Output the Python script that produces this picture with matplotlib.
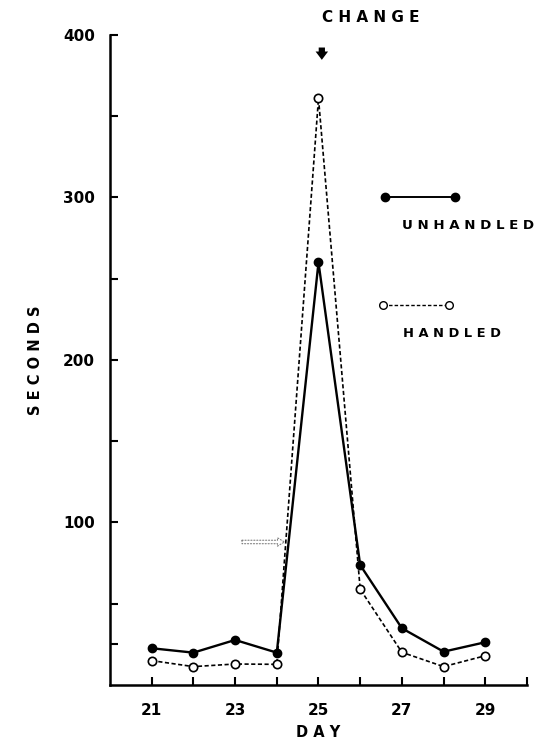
import matplotlib
matplotlib.use("Agg")
import matplotlib.pyplot as plt

days = [21, 22, 23, 24, 25, 26, 27, 28, 29]
unhandled = [22.6, 19.9, 27.7, 19.9, 260, 73.8, 34.9, 20.5, 26.3]
handled = [15, 11.3, 12.9, 12.7, 361, 58.9, 20.1, 11.3, 18]

xticks = list(range(21, 31))
xticklabels = ["21", "", "23", "", "25", "", "27", "", "29", ""]
yticks = [25, 50, 100, 150, 200, 250, 300, 350, 400]
yticklabels = ["", "", "100", "", "200", "", "300", "", "400"]

fig = plt.figure(figsize=(5.4, 7.43), dpi=100)
ax = fig.add_axes([0.2037, 0.0781, 0.7722, 0.8748])

ax.plot(days, unhandled, color="black", lw=1.7, marker="o", ms=6,
        mfc="black", mec="black", zorder=3)
ax.plot(days, handled, color="black", lw=1.2, ls=(0, (2.5, 1.5)), marker="o", ms=6,
        mfc="white", mec="black", mew=1.2, zorder=3)

ax.set_xlim(20, 30)
ax.set_ylim(0, 400)
ax.set_xticks(xticks)
ax.set_xticklabels(xticklabels, fontsize=11, fontweight="bold")
ax.set_yticks(yticks)
ax.set_yticklabels(yticklabels, fontsize=11, fontweight="bold")
ax.tick_params(axis="y", direction="in", length=6, width=1.5, pad=11)
ax.tick_params(axis="x", direction="in", length=6, width=1.5, pad=13)
for s in ["top", "right"]:
    ax.spines[s].set_visible(False)
for s in ["left", "bottom"]:
    ax.spines[s].set_linewidth(1.8)

ax.set_xlabel("D A Y", fontsize=10.5, fontweight="bold", labelpad=5)
ax.set_ylabel("S E C O N D S", fontsize=10.5, fontweight="bold", labelpad=14)

# CHANGE marker
ax.text(26.26, 411, "C H A N G E", ha="center", va="center", fontsize=11,
        fontweight="bold", clip_on=False)
ax.annotate("", xy=(25.08, 383), xytext=(25.08, 394),
            arrowprops=dict(arrowstyle="simple,head_width=0.9,head_length=0.6,tail_width=0.45",
                            color="black", lw=0), annotation_clip=False)

# faint arrow near day 24
ax.annotate("", xy=(24.25, 88), xytext=(23.1, 88),
            arrowprops=dict(arrowstyle="simple,head_width=0.6,head_length=0.5,tail_width=0.25",
                            fc="white", ec="gray", lw=0.8, ls=":"))

# legend drawn in data coords
ax.plot([26.6, 28.27], [300, 300], color="black", lw=1.4, marker="o", ms=6,
        mfc="black", mec="black")
ax.text(27.0, 283, "U N H A N D L E D", ha="left", va="center", fontsize=9.6,
        fontweight="bold", clip_on=False)
ax.plot([26.55, 28.13], [234, 234], color="black", lw=1.0, ls=(0, (2.5, 1.5)),
        marker="o", ms=5.5, mfc="white", mec="black")
ax.text(27.03, 216.6, "H A N D L E D", ha="left", va="center", fontsize=9.4,
        fontweight="bold", clip_on=False)

fig.savefig("out.png", dpi=100)
